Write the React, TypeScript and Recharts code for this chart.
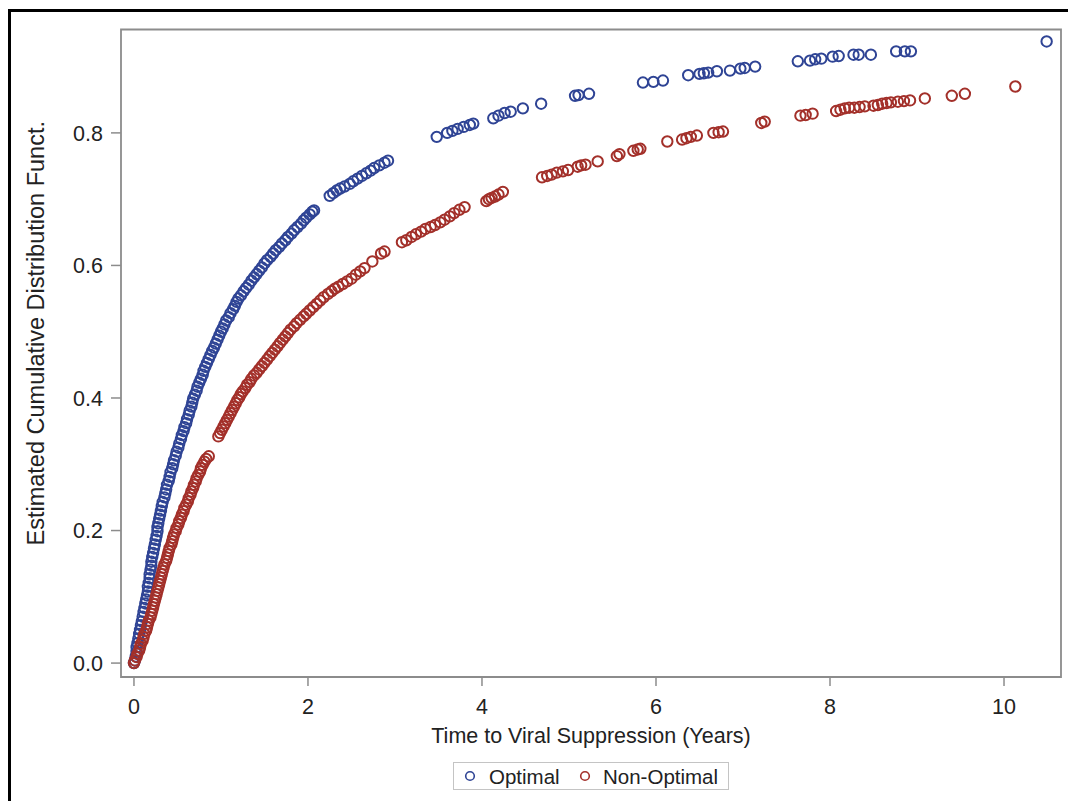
import React from 'react';
import { ScatterChart, Scatter, XAxis, YAxis, ReferenceArea, Legend, Label } from 'recharts';

// Estimated CDF, Optimal group: [years, cdf]
const optimal: [number, number][] = [
  [0.0, 0.0], [0.01, 0.004], [0.02, 0.01], [0.03, 0.017], [0.03, 0.024], [0.04, 0.03], [0.05, 0.037],
  [0.06, 0.044], [0.07, 0.05], [0.08, 0.057], [0.09, 0.063], [0.1, 0.07], [0.11, 0.077], [0.12, 0.083],
  [0.13, 0.09], [0.14, 0.096], [0.15, 0.102], [0.16, 0.108], [0.16, 0.115], [0.17, 0.121], [0.18, 0.128],
  [0.18, 0.134], [0.19, 0.141], [0.2, 0.147], [0.2, 0.153], [0.21, 0.16], [0.22, 0.166], [0.23, 0.173],
  [0.24, 0.179], [0.25, 0.186], [0.26, 0.192], [0.27, 0.199], [0.27, 0.205], [0.28, 0.211], [0.29, 0.218],
  [0.3, 0.224], [0.31, 0.23], [0.32, 0.237], [0.33, 0.243], [0.35, 0.25], [0.36, 0.256], [0.37, 0.262],
  [0.38, 0.269], [0.4, 0.275], [0.41, 0.281], [0.42, 0.288], [0.44, 0.294], [0.45, 0.3], [0.46, 0.306],
  [0.48, 0.313], [0.49, 0.319], [0.51, 0.325], [0.52, 0.331], [0.54, 0.338], [0.55, 0.344], [0.57, 0.35],
  [0.58, 0.356], [0.6, 0.362], [0.61, 0.368], [0.63, 0.375], [0.64, 0.381], [0.66, 0.387], [0.67, 0.393],
  [0.68, 0.399], [0.7, 0.405], [0.72, 0.411], [0.73, 0.417], [0.75, 0.423], [0.77, 0.429], [0.79, 0.435],
  [0.8, 0.441], [0.82, 0.447], [0.84, 0.453], [0.86, 0.459], [0.88, 0.465], [0.9, 0.471], [0.92, 0.476],
  [0.94, 0.482], [0.96, 0.488], [0.98, 0.494], [1.0, 0.5], [1.02, 0.505], [1.04, 0.511], [1.06, 0.517],
  [1.09, 0.522], [1.11, 0.528], [1.14, 0.534], [1.16, 0.539], [1.18, 0.545], [1.2, 0.55], [1.23, 0.555],
  [1.26, 0.561], [1.29, 0.566], [1.32, 0.571], [1.35, 0.577], [1.38, 0.582], [1.41, 0.587], [1.44, 0.592],
  [1.47, 0.597], [1.5, 0.603], [1.53, 0.608], [1.57, 0.613], [1.6, 0.618], [1.63, 0.623], [1.67, 0.628],
  [1.7, 0.633], [1.74, 0.638], [1.77, 0.643], [1.81, 0.648], [1.84, 0.653], [1.88, 0.658], [1.92, 0.663],
  [1.95, 0.668], [1.98, 0.672], [2.02, 0.677], [2.05, 0.681], [2.07, 0.683],
  [2.25, 0.705], [2.29, 0.709], [2.33, 0.713], [2.37, 0.716], [2.42, 0.719], [2.48, 0.723], [2.52, 0.727],
  [2.57, 0.731], [2.62, 0.735], [2.67, 0.739], [2.72, 0.743], [2.76, 0.747], [2.82, 0.751], [2.88, 0.755],
  [2.92, 0.758],
  [3.48, 0.794], [3.6, 0.8], [3.66, 0.803], [3.72, 0.806], [3.79, 0.809], [3.86, 0.812], [3.9, 0.814],
  [4.13, 0.822], [4.19, 0.826], [4.26, 0.83], [4.33, 0.832], [4.47, 0.837], [4.68, 0.844],
  [5.07, 0.856], [5.11, 0.857], [5.23, 0.859],
  [5.85, 0.876], [5.97, 0.877], [6.08, 0.879],
  [6.37, 0.887], [6.5, 0.889], [6.55, 0.89], [6.6, 0.891], [6.7, 0.893], [6.85, 0.894], [6.97, 0.897],
  [7.02, 0.898], [7.14, 0.9],
  [7.63, 0.908], [7.77, 0.909], [7.83, 0.911], [7.9, 0.912], [8.03, 0.915], [8.1, 0.916],
  [8.27, 0.918], [8.33, 0.918], [8.47, 0.918],
  [8.76, 0.923], [8.86, 0.923], [8.93, 0.923],
  [10.49, 0.938],
];

// Estimated CDF, Non-Optimal group: [years, cdf]
const nonOptimal: [number, number][] = [
  [0.0, 0.0], [0.01, 0.004], [0.03, 0.009], [0.04, 0.014], [0.06, 0.019], [0.07, 0.024], [0.08, 0.029],
  [0.1, 0.034], [0.11, 0.039], [0.12, 0.044], [0.14, 0.049], [0.15, 0.054], [0.16, 0.059], [0.17, 0.064],
  [0.19, 0.069], [0.2, 0.074], [0.21, 0.079], [0.22, 0.084], [0.23, 0.089], [0.24, 0.094], [0.25, 0.099],
  [0.26, 0.104], [0.27, 0.109], [0.28, 0.114], [0.29, 0.119], [0.3, 0.124], [0.31, 0.129], [0.32, 0.134],
  [0.33, 0.139], [0.34, 0.144], [0.35, 0.149], [0.37, 0.154], [0.38, 0.159], [0.39, 0.164], [0.4, 0.169],
  [0.41, 0.174], [0.43, 0.179], [0.44, 0.184], [0.45, 0.189], [0.46, 0.194], [0.48, 0.199], [0.49, 0.204],
  [0.51, 0.209], [0.52, 0.214], [0.54, 0.219], [0.55, 0.224], [0.57, 0.229], [0.58, 0.234], [0.6, 0.239],
  [0.62, 0.244], [0.63, 0.249], [0.65, 0.254], [0.66, 0.259], [0.68, 0.264], [0.69, 0.269], [0.71, 0.274],
  [0.72, 0.279], [0.74, 0.284], [0.76, 0.289], [0.77, 0.294], [0.79, 0.299], [0.81, 0.304], [0.83, 0.308],
  [0.86, 0.312],
  [0.97, 0.342], [0.99, 0.347], [1.01, 0.352], [1.03, 0.357], [1.05, 0.362], [1.07, 0.367], [1.09, 0.372],
  [1.11, 0.377], [1.13, 0.382], [1.15, 0.387], [1.17, 0.392], [1.19, 0.397], [1.21, 0.401], [1.23, 0.406],
  [1.25, 0.41], [1.28, 0.415], [1.3, 0.42], [1.33, 0.424], [1.35, 0.429], [1.38, 0.434], [1.41, 0.438],
  [1.44, 0.443], [1.47, 0.448], [1.5, 0.453], [1.53, 0.458], [1.56, 0.463], [1.59, 0.468], [1.62, 0.473],
  [1.65, 0.478], [1.68, 0.483], [1.71, 0.488], [1.74, 0.493], [1.77, 0.498], [1.8, 0.503], [1.84, 0.508],
  [1.87, 0.513], [1.91, 0.518], [1.95, 0.523], [1.98, 0.527], [2.02, 0.532], [2.06, 0.537], [2.1, 0.542],
  [2.14, 0.547], [2.18, 0.552], [2.23, 0.557], [2.27, 0.561],
  [2.31, 0.565], [2.35, 0.568], [2.4, 0.572], [2.45, 0.576], [2.5, 0.58], [2.55, 0.586], [2.6, 0.591],
  [2.65, 0.596], [2.74, 0.606], [2.84, 0.618], [2.88, 0.621],
  [3.08, 0.635], [3.13, 0.638], [3.19, 0.643], [3.24, 0.647], [3.3, 0.651], [3.35, 0.655], [3.41, 0.658],
  [3.46, 0.661], [3.52, 0.665], [3.57, 0.669], [3.63, 0.674], [3.68, 0.679], [3.74, 0.684], [3.8, 0.688],
  [4.05, 0.697], [4.08, 0.7], [4.11, 0.702], [4.15, 0.704], [4.19, 0.707], [4.24, 0.711],
  [4.69, 0.733], [4.75, 0.735], [4.8, 0.737], [4.86, 0.74], [4.93, 0.742], [4.99, 0.744], [5.1, 0.749],
  [5.14, 0.751], [5.19, 0.752], [5.33, 0.757],
  [5.55, 0.765], [5.58, 0.768], [5.74, 0.773], [5.79, 0.775], [5.82, 0.776],
  [6.13, 0.787], [6.3, 0.79], [6.35, 0.792], [6.4, 0.794], [6.47, 0.796], [6.66, 0.8], [6.72, 0.801],
  [6.77, 0.802],
  [7.21, 0.815], [7.25, 0.817],
  [7.66, 0.826], [7.72, 0.827], [7.8, 0.829],
  [8.07, 0.833], [8.12, 0.835], [8.17, 0.837], [8.22, 0.838], [8.28, 0.838], [8.34, 0.839], [8.4, 0.84],
  [8.5, 0.841], [8.55, 0.842], [8.6, 0.844], [8.65, 0.845], [8.7, 0.846], [8.78, 0.847], [8.85, 0.848],
  [8.92, 0.849],
  [9.09, 0.852], [9.4, 0.856], [9.55, 0.859], [10.13, 0.87],
];

const xTicks = [0, 2, 4, 6, 8, 10];
const yTicks = [0, 0.2, 0.4, 0.6, 0.8];
const xDomain: [number, number] = [-0.149, 10.655];
const yDomain: [number, number] = [-0.021, 0.956];

const BLUE = '#2f4495';
const RED = '#a3302a';
const FRAME = '#8c8c8c';
const TEXT = '#222';
const FONT = '"Liberation Sans", Arial, Helvetica, sans-serif';

const W = 1065;
const H = 790;
const MARGIN = { top: 17.5, right: 15, bottom: 65, left: 50 };
const Y_AXIS_W = 60;
const X_AXIS_H = 60;

const toRows = (pts: [number, number][]) => pts.map(([x, y]) => ({ x, y }));

const ring = (color: string) => (props: any) => (
  <circle cx={props.cx} cy={props.cy} r={5.2} fill="none" stroke={color} strokeWidth={2} />
);

// axis titles, placed from the layout constants
const plotLeft = MARGIN.left + Y_AXIS_W;
const plotBottom = H - MARGIN.bottom - X_AXIS_H;
const plotWidth = W - plotLeft - MARGIN.right;
const plotHeight = plotBottom - MARGIN.top;

const XTitle = () => (
  <text
    x={plotLeft + plotWidth / 2}
    y={plotBottom + 59}
    textAnchor="middle"
    dominantBaseline="central"
    fontSize={21.5}
    fill={TEXT}
  >
    Time to Viral Suppression (Years)
  </text>
);

const YTitle = () => {
  const cx = MARGIN.left - 25;
  const cy = MARGIN.top + plotHeight / 2 - 20;
  return (
    <text
      x={cx}
      y={cy}
      transform={`rotate(-90 ${cx} ${cy})`}
      textAnchor="middle"
      dominantBaseline="central"
      fontSize={23.5}
      fill={TEXT}
    >
      Estimated Cumulative Distribution Funct.
    </text>
  );
};

const LegendBox = () => (
  <div
    style={{
      position: 'relative',
      boxSizing: 'border-box',
      width: 276,
      height: 28,
      border: '1px solid #c4c4c4',
      fontSize: 20.5,
      color: TEXT,
    }}
  >
    <svg width={12} height={12} style={{ position: 'absolute', left: 10, top: 7 }}>
      <circle cx={6} cy={6} r={4.3} fill="none" stroke={BLUE} strokeWidth={1.6} />
    </svg>
    <span style={{ position: 'absolute', left: 35, top: 2, lineHeight: '24px' }}>Optimal</span>
    <svg width={12} height={12} style={{ position: 'absolute', left: 125, top: 7 }}>
      <circle cx={6} cy={6} r={4.3} fill="none" stroke={RED} strokeWidth={1.6} />
    </svg>
    <span style={{ position: 'absolute', left: 149, top: 2, lineHeight: '24px' }}>Non-Optimal</span>
  </div>
);

export default function App() {
  return (
    <div
      style={{
        position: 'relative',
        top: 1,
        width: W,
        height: H,
        borderTop: '3px solid #000',
        borderLeft: '3px solid #000',
        background: '#fff',
        fontFamily: FONT,
        overflow: 'hidden',
      }}
    >
      <ScatterChart width={W} height={H} margin={MARGIN}>
        <XAxis
          type="number"
          dataKey="x"
          domain={xDomain}
          ticks={xTicks}
          interval={0}
          allowDataOverflow
          axisLine={false}
          tickLine={{ stroke: FRAME, strokeWidth: 1.5 }}
          tickSize={9}
          tickMargin={13}
          height={X_AXIS_H}
          tick={{ fontSize: 21.5, fill: TEXT }}
        >
          <Label content={<XTitle />} />
        </XAxis>
        <YAxis
          type="number"
          dataKey="y"
          domain={yDomain}
          ticks={yTicks}
          interval={0}
          allowDataOverflow
          axisLine={false}
          tickLine={{ stroke: FRAME, strokeWidth: 1.5 }}
          tickSize={10}
          tickMargin={8}
          width={Y_AXIS_W}
          tick={{ fontSize: 21.5, fill: TEXT }}
          tickFormatter={(v: number) => v.toFixed(1)}
        >
          <Label content={<YTitle />} />
        </YAxis>
        <ReferenceArea
          x1={xDomain[0]}
          x2={xDomain[1]}
          y1={yDomain[0]}
          y2={yDomain[1]}
          fill="none"
          stroke={FRAME}
          strokeWidth={1.8}
          ifOverflow="visible"
        />
        <Scatter name="Optimal" data={toRows(optimal)} shape={ring(BLUE)} isAnimationActive={false} />
        <Scatter name="Non-Optimal" data={toRows(nonOptimal)} shape={ring(RED)} isAnimationActive={false} />
        <Legend
          layout="horizontal"
          verticalAlign="middle"
          align="center"
          content={<LegendBox />}
          wrapperStyle={{ position: 'absolute', left: 442, top: 750, width: 276, height: 28 }}
        />
      </ScatterChart>
    </div>
  );
}
